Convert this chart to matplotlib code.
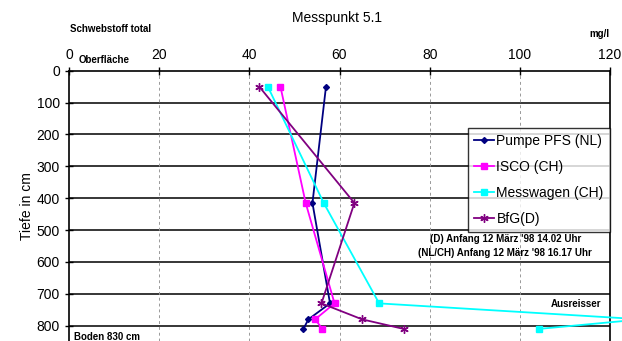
import matplotlib
matplotlib.use("Agg")
import matplotlib.pyplot as plt

plt.rcParams['font.family'] = ['Liberation Sans', 'DejaVu Sans']

W, H = 622, 341
depth = [50, 415, 730, 780, 810]
pumpe = [57.0, 54.0, 57.9, 53.1, 52.0]
isco = [46.9, 52.5, 58.9, 54.6, 56.2]
messwagen = [44.1, 56.5, 68.8, 127.0, 104.3]
bfg = [42.2, 63.3, 56.0, 65.0, 74.2]

xticks = [0, 20, 40, 60, 80, 100, 120]
yticks = [0, 100, 200, 300, 400, 500, 600, 700, 800]

fig = plt.figure(figsize=(W / 100, H / 100), dpi=100)
left, right, top = 69 / W, 610 / W, 1 - 70.7 / H
ax = fig.add_axes([left, 0, right - left, top])
ax.set_xlim(0, 120)
ax.set_ylim(848, 0)

ax.xaxis.tick_top()
ax.set_xticks(xticks)
ax.set_yticks(yticks)
ax.tick_params(direction='inout', length=6, width=1, labelsize=10, colors='black')
ax.tick_params(axis='x', pad=3)
for s in ['top', 'left', 'right']:
    ax.spines[s].set_linewidth(1.2)
ax.spines['bottom'].set_visible(False)

for y in yticks[1:]:
    ax.axhline(y, color='black', lw=1.1, zorder=1)
for x in xticks[1:-1]:
    ax.axvline(x, color='#999999', lw=0.7, ls=(0, (3, 3)), zorder=1)

kw = dict(lw=1.3, clip_on=False, zorder=3)
ax.plot(pumpe, depth, color='#000080', marker='D', ms=3, label='Pumpe PFS (NL)', **kw)
ax.plot(isco, depth, color='#FF00FF', marker='s', ms=5, label='ISCO (CH)', **kw)
ax.plot(messwagen, depth, color='#00FFFF', marker='s', ms=5, label='Messwagen (CH)', **kw)
ax.plot(bfg, depth, color='#800080', marker=(6, 2, 0), ms=6, mew=1, label='BfG(D)', **kw)

leg = ax.legend(loc='upper right', bbox_to_anchor=(1.0, 1 - (128 - 70.7) / (H - 70.7)),
                fontsize=10, frameon=True, fancybox=False, edgecolor='black',
                handlelength=1.4, handletextpad=0.2, borderpad=0.45, labelspacing=0.85,
                borderaxespad=0)
leg.get_frame().set_linewidth(1.0)
leg.set_zorder(5)

ax.set_ylabel('Tiefe in cm', fontsize=10, labelpad=2)

def ft(x, y, s, **k):
    fig.text(x / W, 1 - y / H, s, **k)

ft(337, 18, 'Messpunkt 5.1', ha='center', va='center', fontsize=10)
ft(70, 29, 'Schwebstoff total', ha='left', va='center', fontsize=7, fontweight='bold')
ft(610, 34, 'mg/l', ha='right', va='center', fontsize=7, fontweight='bold')
ft(79, 60, 'Oberfläche', ha='left', va='center', fontsize=7, fontweight='bold')
ft(74, 337, 'Boden 830 cm', ha='left', va='center', fontsize=7, fontweight='bold')
ft(506, 239, "(D) Anfang 12 März '98 14.02 Uhr", ha='center', va='center', fontsize=7, fontweight='bold')
ft(505, 253, "(NL/CH) Anfang 12 März '98 16.17 Uhr", ha='center', va='center', fontsize=7, fontweight='bold')
ft(601, 304, 'Ausreisser', ha='right', va='center', fontsize=7, fontweight='bold')

fig.savefig('out.png', dpi=100)
